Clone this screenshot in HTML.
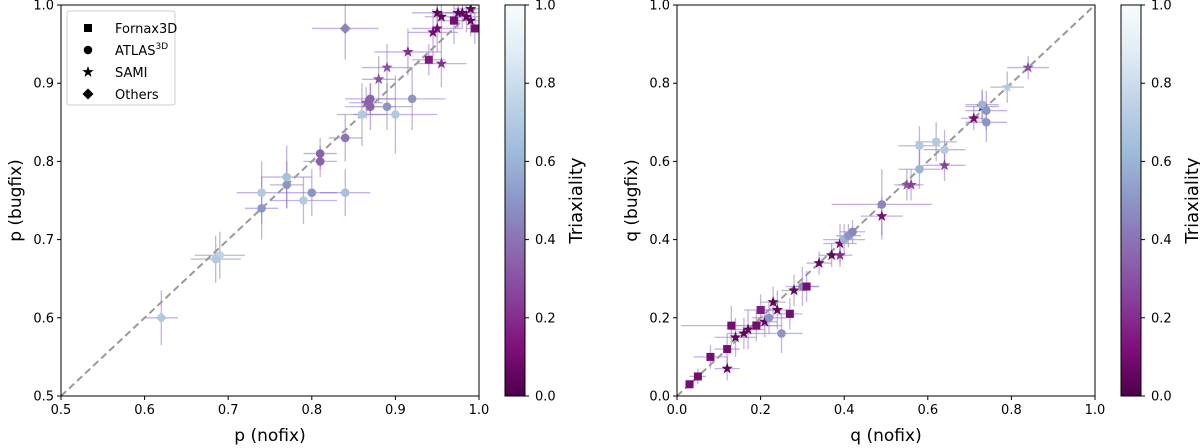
<!DOCTYPE html>
<html><head><meta charset="utf-8"><style>
body{margin:0;background:#fff;}
svg{display:block;font-family:"DejaVu Sans","Liberation Sans",sans-serif;}
</style></head><body>
<svg id="fig" width="1200" height="448" viewBox="0 0 1200 448">
<defs>
<linearGradient id="cmap" x1="0" y1="1" x2="0" y2="0">
<stop offset="0" stop-color="#4d004b"/><stop offset="0.125" stop-color="#810f7c"/><stop offset="0.25" stop-color="#88419d"/><stop offset="0.375" stop-color="#8c6bb1"/><stop offset="0.5" stop-color="#8c96c6"/><stop offset="0.625" stop-color="#9ebcda"/><stop offset="0.75" stop-color="#bfd3e6"/><stop offset="0.875" stop-color="#e0ecf4"/><stop offset="1" stop-color="#f7fcfd"/>
</linearGradient>
</defs>
</svg>
<script>
// Left panel data: p (nofix), p (bugfix), errors, marker, triaxiality
const pX=[0.62,0.69,0.685,0.74,0.74,0.77,0.77,0.79,0.80,0.81,0.81,0.84,0.84,0.86,0.865,0.87,0.87,0.89,0.90,0.92,0.84,0.88,0.89,0.915,0.94,0.955,0.945,0.95,0.95,0.955,0.97,0.975,0.98,0.99,0.995,0.99,0.985];
const pY=[0.60,0.68,0.675,0.74,0.76,0.77,0.78,0.75,0.76,0.81,0.80,0.76,0.83,0.86,0.875,0.88,0.87,0.87,0.86,0.88,0.97,0.905,0.92,0.94,0.93,0.925,0.965,0.97,0.99,0.985,0.98,0.99,0.99,0.98,0.97,0.995,0.985];
const pXe=[0.02,0.03,0.03,0.02,0.03,0.02,0.03,0.04,0.03,0.02,0.02,0.03,0.02,0.03,0.02,0.03,0.03,0.03,0.05,0.04,0.04,0.02,0.03,0.04,0.02,0.03,0.03,0.03,0.03,0.02,0.02,0.02,0.02,0.02,0.01,0.02,0.02];
const pYe=[0.035,0.03,0.03,0.04,0.04,0.03,0.04,0.03,0.03,0.02,0.02,0.03,0.03,0.04,0.02,0.02,0.03,0.03,0.05,0.04,0.04,0.03,0.03,0.03,0.02,0.03,0.03,0.03,0.02,0.03,0.03,0.02,0.02,0.02,0.02,0.02,0.02];
const pM=['D','o','o','o','o','o','o','o','o','o','o','o','o','o','*','o','o','o','o','o','D','*','*','*','s','*','*','*','*','*','s','*','*','*','s','*','*'];
const pT=[0.7,0.75,0.7,0.5,0.7,0.5,0.65,0.7,0.5,0.35,0.35,0.65,0.4,0.7,0.35,0.35,0.35,0.5,0.7,0.5,0.45,0.3,0.3,0.2,0.15,0.2,0.1,0.1,0.05,0.05,0.1,0.05,0.05,0.05,0.1,0.05,0.05];
// Right panel data: q (nofix), q (bugfix)
const qX=[0.03,0.05,0.08,0.12,0.12,0.13,0.14,0.16,0.17,0.19,0.20,0.21,0.22,0.23,0.24,0.25,0.27,0.28,0.30,0.31,0.34,0.37,0.39,0.39,0.40,0.41,0.42,0.49,0.49,0.55,0.56,0.58,0.58,0.62,0.64,0.64,0.71,0.73,0.73,0.74,0.74,0.79,0.84];
const qY=[0.03,0.05,0.10,0.07,0.12,0.18,0.15,0.16,0.17,0.18,0.22,0.19,0.20,0.24,0.22,0.16,0.21,0.27,0.28,0.28,0.34,0.36,0.39,0.36,0.40,0.41,0.42,0.49,0.46,0.54,0.54,0.58,0.64,0.65,0.63,0.59,0.71,0.74,0.745,0.73,0.70,0.79,0.84];
const qXe=[0.01,0.02,0.04,0.03,0.03,0.12,0.05,0.04,0.04,0.05,0.04,0.03,0.04,0.03,0.04,0.05,0.03,0.03,0.04,0.03,0.03,0.03,0.04,0.03,0.05,0.03,0.03,0.12,0.05,0.03,0.03,0.05,0.05,0.05,0.05,0.05,0.03,0.04,0.04,0.05,0.05,0.04,0.05];
const qYe=[0.01,0.02,0.03,0.03,0.04,0.05,0.05,0.04,0.05,0.04,0.04,0.04,0.04,0.04,0.05,0.05,0.04,0.04,0.05,0.04,0.03,0.03,0.05,0.03,0.04,0.03,0.03,0.09,0.05,0.04,0.04,0.05,0.05,0.05,0.05,0.04,0.03,0.04,0.04,0.05,0.05,0.04,0.03];
const qM=['s','s','s','*','s','s','*','*','*','s','s','*','o','*','*','o','s','*','o','s','*','*','*','*','o','o','o','o','*','*','*','o','o','o','o','*','*','*','o','o','o','*','*'];
const qT=[0.1,0.1,0.1,0.05,0.1,0.1,0.05,0.05,0.05,0.1,0.15,0.05,0.5,0.05,0.05,0.5,0.1,0.05,0.45,0.1,0.05,0.05,0.1,0.2,0.6,0.5,0.45,0.45,0.1,0.3,0.25,0.6,0.7,0.7,0.7,0.25,0.1,0.05,0.6,0.5,0.5,0.7,0.3];
const pTicks=["0.5","0.6","0.7","0.8","0.9","1.0"];
const qTicks=["0.0","0.2","0.4","0.6","0.8","1.0"];
const cTicks=["0.0","0.2","0.4","0.6","0.8","1.0"];

const NS="http://www.w3.org/2000/svg";
const svg=document.getElementById('fig');
function mk(tag,attrs,parent){const e=document.createElementNS(NS,tag);for(const k in attrs)e.setAttribute(k,attrs[k]);(parent||svg).appendChild(e);return e;}
const stops=["#4d004b","#810f7c","#88419d","#8c6bb1","#8c96c6","#9ebcda","#bfd3e6","#e0ecf4","#f7fcfd"];
function hex(h){return [1,3,5].map(i=>parseInt(h.substr(i,2),16));}
function cmap(t){t=Math.max(0,Math.min(1,t))*8;const i=Math.min(7,Math.floor(t)),f=t-i;const a=hex(stops[i]),b=hex(stops[i+1]);return 'rgb('+a.map((v,k)=>Math.round(v+(b[k]-v)*f)).join(',')+')';}
function marker(g,m,x,y,c){
  if(m==='o')return mk('circle',{cx:x,cy:y,r:4.3,fill:c},g);
  if(m==='s')return mk('rect',{x:x-4,y:y-4,width:8,height:8,fill:c},g);
  if(m==='D')return mk('polygon',{points:`${x},${y-5.5} ${x+5.5},${y} ${x},${y+5.5} ${x-5.5},${y}`,fill:c},g);
  let pts=[];for(let k=0;k<10;k++){const r=k%2?2.4:6,a=-Math.PI/2+k*Math.PI/5;pts.push((x+r*Math.cos(a)).toFixed(1)+','+(y+r*Math.sin(a)).toFixed(1));}
  return mk('polygon',{points:pts.join(' '),fill:c},g);
}
function panel(name,x0,x1,lo,hi,X,Y,Xe,Ye,M,T,ticks,xlab,ylab,cbx){
  const top=5,bot=396;
  const sx=v=>x0+(v-lo)/(hi-lo)*(x1-x0), sy=v=>bot-(v-lo)/(hi-lo)*(bot-top);
  const g=mk('g',{});
  
  
  const clip=mk('clipPath',{id:'c'+name},svg);mk('rect',{x:x0,y:top,width:x1-x0,height:bot-top},clip);
  const pg=mk('g',{'clip-path':'url(#c'+name+')'},g);
  const eg=mk('g',{},pg);
  
  
  X.forEach((v,i)=>{const col=(i%4===1)?'rgba(160,160,160,0.7)':'rgba(147,112,219,0.55)';
    mk('line',{x1:sx(v-Xe[i]),x2:sx(v+Xe[i]),y1:sy(Y[i]),y2:sy(Y[i]),stroke:col,'stroke-width':1.3},eg);
    mk('line',{x1:sx(v),x2:sx(v),y1:sy(Y[i]-Ye[i]),y2:sy(Y[i]+Ye[i]),stroke:col,'stroke-width':1.3},eg);});
  const dl=mk('line',{x1:sx(lo),y1:sy(lo),x2:sx(hi),y2:sy(hi),stroke:'#999','stroke-width':2,'stroke-dasharray':'7,4'},pg);
  
  
  X.forEach((v,i)=>{const p=marker(pg,M[i],sx(v),sy(Y[i]),cmap(T[i]));
    
    });
  mk('rect',{x:x0,y:top,width:x1-x0,height:bot-top,fill:'none',stroke:'#000','stroke-width':1},g);
  ticks.forEach(t=>{const v=parseFloat(t);
    mk('line',{x1:sx(v),x2:sx(v),y1:bot,y2:bot+4,stroke:'#000'},g);
    const tx=mk('text',{x:sx(v),y:bot+18,'font-size':13,'text-anchor':'middle'},g);tx.textContent=t;
    
    
    mk('line',{x1:x0-4,x2:x0,y1:sy(v),y2:sy(v),stroke:'#000'},g);
    const ty=mk('text',{x:x0-7,y:sy(v)+4.5,'font-size':13,'text-anchor':'end'},g);ty.textContent=t;
    
    });
  const xl=mk('text',{x:(x0+x1)/2,y:441,'font-size':17,'text-anchor':'middle'},g);xl.textContent=xlab;
  
  
  const yl=mk('text',{x:0,y:0,'font-size':17,'text-anchor':'middle',transform:`translate(${x0-40},${(top+bot)/2}) rotate(-90)`},g);yl.textContent=ylab;
  
  
  // colorbar
  const cb=mk('g',{},svg);
  
  
  mk('rect',{x:cbx,y:top,width:20,height:bot-top,fill:'url(#cmap)',stroke:'#000','stroke-width':1},cb);
  cTicks.forEach(t=>{const y=bot-parseFloat(t)*(bot-top);
    mk('line',{x1:cbx+20,x2:cbx+24,y1:y,y2:y,stroke:'#000'},cb);
    const tt=mk('text',{x:cbx+30,y:y+4.5,'font-size':13},cb);tt.textContent=t;
    
    });
  const ct=mk('text',{x:0,y:0,'font-size':18,'text-anchor':'middle',transform:`translate(${cbx+77},${(top+bot)/2}) rotate(-90)`},cb);ct.textContent='Triaxiality';
  
  
}
panel('left',61,479,0.5,1.0,pX,pY,pXe,pYe,pM,pT,pTicks,'p (nofix)','p (bugfix)',505);
panel('right',677,1095,0.0,1.0,qX,qY,qXe,qYe,qM,qT,qTicks,'q (nofix)','q (bugfix)',1121);
// legend
const lg=mk('g',{});


mk('rect',{x:67,y:11,width:108,height:94,fill:'#fff',stroke:'#ccc','stroke-width':1,rx:2},lg);
const labs=['Fornax3D','ATLAS','SAMI','Others'],ms=['s','o','*','D'];
labs.forEach((l,i)=>{const y=28+i*22;marker(lg,ms[i],88,y,'#000');
  const t=mk('text',{x:115,y:y+5,'font-size':13},lg);t.textContent=l;
  if(i===1){const s=mk('tspan',{dy:-6,'font-size':9},t);s.textContent='3D';}
  
  });
</script>
</body></html>
